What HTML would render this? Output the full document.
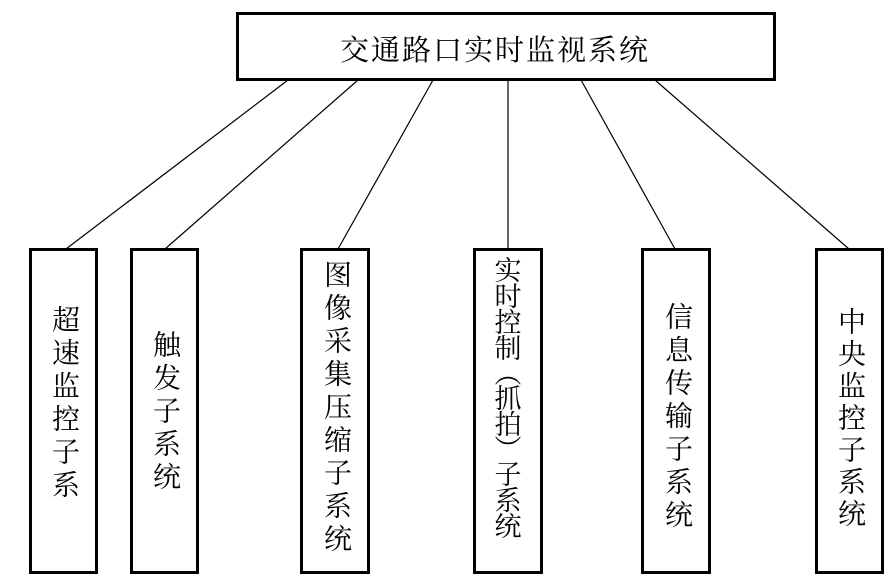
<!DOCTYPE html>
<html><head><meta charset="utf-8"><style>
body{margin:0;background:#fff;}
#c{position:relative;width:885px;height:577px;overflow:hidden;background:#fff;}
.b{position:absolute;box-sizing:border-box;border:3px solid #000;background:#fff;}
.v{position:absolute;writing-mode:vertical-rl;white-space:nowrap;font-family:"Liberation Serif","Noto Serif CJK SC",serif;font-size:28px;line-height:28px;letter-spacing:5px;color:#000;}
.t{position:absolute;font-family:"Liberation Serif","Noto Serif CJK SC",serif;font-size:29px;color:#000;white-space:nowrap;}
.col{position:absolute;display:flex;flex-direction:column;align-items:center;font-family:"Liberation Serif","Noto Serif CJK SC",serif;font-size:27px;color:#000;width:40px;}
.col span{display:block;height:26px;line-height:26px;}
.col span.p{height:24px;line-height:24px;}
</style></head><body><div id="c">
<svg width="885" height="577" style="position:absolute;left:0;top:0">
<g stroke="#000" stroke-width="1.2">
<line x1="288" y1="80" x2="66" y2="249"/>
<line x1="358" y1="80" x2="165" y2="249"/>
<line x1="433" y1="80" x2="338" y2="249"/>
<line x1="508" y1="80" x2="508" y2="249"/>
<line x1="581" y1="80" x2="675" y2="249"/>
<line x1="655" y1="80" x2="849" y2="249"/>
</g></svg>
<div class="b" style="left:236px;top:12px;width:540px;height:69px"></div>
<div class="t" style="left:340px;top:28px;letter-spacing:2px">交通路口实时监视系统</div>
<div class="b" style="left:29px;top:248px;width:69px;height:326px"></div>
<div class="b" style="left:130px;top:248px;width:69px;height:326px"></div>
<div class="b" style="left:300px;top:248px;width:70px;height:326px"></div>
<div class="b" style="left:473px;top:248px;width:70px;height:326px"></div>
<div class="b" style="left:641px;top:248px;width:70px;height:326px"></div>
<div class="b" style="left:815px;top:248px;width:69px;height:326px"></div>
<div class="v" style="left:49px;top:305px">超速监控子系</div>
<div class="v" style="left:150px;top:330px">触发子系统</div>
<div class="v" style="left:321px;top:260px">图像采集压缩子系统</div>
<div class="col" style="left:488px;top:258px"><span>实</span><span>时</span><span>控</span><span>制</span><span class="p">︵</span><span>抓</span><span>拍</span><span class="p">︶</span><span>子</span><span>系</span><span>统</span></div>
<div class="v" style="left:662px;top:302px">信息传输子系统</div>
<div class="v" style="left:835px;top:307px;letter-spacing:4px">中央监控子系统</div>
</div></body></html>
